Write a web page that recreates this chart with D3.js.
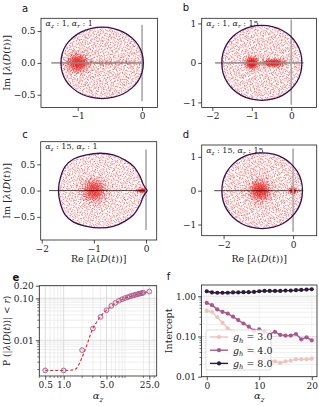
<!DOCTYPE html>
<html>
<head>
<meta charset="utf-8">
<script src="https://cdn.jsdelivr.net/npm/d3@7"></script>
<style>
  body { margin: 0; background: #fff; }
  svg { display: block; }
</style>
</head>
<body>
<svg id="fig" width="319" height="406"></svg>
<script>
// ---- spectra: upper half of each boundary [Re, Im]
const boundaryA = [[-1.26,0],[-1.24,0.148],[-1.18,0.281],[-1.08,0.396],[-0.95,0.484],[-0.8,0.539],[-0.62,0.56],[-0.44,0.539],[-0.29,0.484],[-0.16,0.396],[-0.06,0.281],[0.0,0.148],[0.02,0]]
const boundaryB = [[-1.76,0],[-1.729,0.252],[-1.633,0.477],[-1.475,0.673],[-1.269,0.821],[-1.03,0.914],[-0.745,0.95],[-0.46,0.914],[-0.221,0.821],[-0.015,0.673],[0.143,0.477],[0.239,0.252],[0.27,0]]
const boundaryC = [[-1.68,0],[-1.64,0.25],[-1.55,0.46],[-1.39,0.6],[-1.14,0.68],[-0.88,0.71],[-0.63,0.68],[-0.4,0.58],[-0.24,0.46],[-0.115,0.27],[-0.05,0.11],[0.025,0]]
const boundaryD = [[-2.05,0],[-2.014,0.297],[-1.905,0.562],[-1.724,0.793],[-1.489,0.968],[-1.216,1.077],[-0.89,1.12],[-0.564,1.077],[-0.291,0.968],[-0.056,0.793],[0.125,0.562],[0.234,0.297],[0.27,0]]

// dense spots of eigenvalues: [re, im, spread re, spread im, count]
const clustersA = [[-1.0,0,0.085,0.075,480],[-0.55,0,0.4,0.02,160]]
const clustersB = [[-1.0,0,0.08,0.075,330],[-0.45,0,0.15,0.05,340]]
const clustersC = [[-1.0,0,0.12,0.115,520],[-0.06,0,0.06,0.02,110]]
const clustersD = [[-0.95,0,0.16,0.16,520],[0.0,0,0.05,0.05,120]]

// real axis segment and imaginary axis segment
const realLines = [[-1.41,0.02],[-1.93,0.31],[-1.86,0],[-2.27,0.29]]
const imagLines = [[-0.6,0.6],[-1.06,1.1],[-0.75,0.78],[-1.21,1.25]]
const alphaLabels = [["1","1"],["1","15"],["15","1"],["15","15"]]

// ---- panel e
const alphaE = [0.5,1,2,3,4,5,6,7,8,9,10,11,12,13,14,15,16,17,18,19,20,25]
const probE = [0.0019,0.0019,0.0058,0.019,0.036,0.052,0.066,0.078,0.088,0.095,0.101,0.106,0.111,0.115,0.119,0.122,0.125,0.128,0.131,0.133,0.136,0.145]
const fitX = [0.5,1.0,1.4,1.65,1.85,2.0,2.2,2.45,2.7,3,3.5,4,5,6,8,10,14,20,25]
const fitY = [0.0019,0.0019,0.00195,0.0022,0.003,0.0039,0.0055,0.0085,0.013,0.019,0.028,0.037,0.052,0.065,0.085,0.1,0.118,0.135,0.145]

// ---- panel f
const alphaF = d3.range(0, 21)
const gLabels = ["3.0","4.0","8.0"]
const gColors = ["#efc3bd","#a9588c","#2b1c3d"]
const intercept3 = [0.43,0.41,0.30,0.22,0.16,0.13,0.10,0.075,0.055,0.04,0.027,0.028,0.025,0.024,0.022,0.024,0.025,0.027,0.027,0.027,0.028]
const intercept4 = [0.68,0.60,0.47,0.41,0.37,0.31,0.255,0.21,0.175,0.14,0.15,0.13,0.115,0.13,0.11,0.105,0.105,0.115,0.085,0.095,0.08]
const intercept8 = [1.33,1.24,1.22,1.22,1.22,1.24,1.24,1.26,1.26,1.28,1.33,1.35,1.35,1.35,1.35,1.38,1.38,1.41,1.43,1.46,1.49]

const svg = d3.select("#fig")
const SERIF = "DejaVu Serif"
const SANS = "DejaVu Sans"
const INK = "#222"

// low discrepancy sequence used to spread the dots of the clouds
function halton(i, b) {
  let f = 1, r = 0
  while (i > 0) { f /= b; r += f * (i % b); i = Math.floor(i / b) }
  return r
}

// text with italic greek + subscripts: parts = [[str, kind]]
function richText(sel, parts, size) {
  parts.forEach(([s, kind]) => {
    const t = sel.append("tspan").text(s)
    if (kind == "i") t.attr("font-style", "italic")
    if (kind == "sub") t.attr("font-style", "italic").attr("font-size", size * 0.7).attr("dy", size * 0.25)
    if (kind == "up") t.attr("dy", -size * 0.25)
  })
  return sel
}

function styleAxis(ax) {
  ax.select(".domain").remove()
  ax.selectAll(".tick line").attr("stroke", INK).attr("stroke-width", 0.8)
  ax.selectAll(".tick text").attr("font-family", SERIF).attr("font-size", 9).attr("fill", INK)
}

function frame(g, x0, x1, y0, y1) {
  g.append("rect").attr("x", x0).attr("y", y0).attr("width", x1 - x0).attr("height", y1 - y0)
    .attr("fill", "none").attr("stroke", INK).attr("stroke-width", 0.8)
}

const reLabel = [["Re [", ""], ["λ", "i"], ["(", ""], ["D", "i"], ["(", ""], ["t", "i"], [")", ""], [")]", ""]]
const imLabel = [["Im [", ""], ["λ", "i"], ["(", ""], ["D", "i"], ["(", ""], ["t", "i"], [")", ""], [")]", ""]]

// ---------- spectrum panels ----------
const specLayout = [
  { x0: 41, x1: 157.5, y0: 18.3, y1: 107.5, xDom: [-1.57, 0.24], yDom: [-0.7, 0.7], xTicks: [-1, 0], yTicks: [-0.5, 0, 0.5], yFmt: ".1f", lineColor: "#8c8c8c", lineW: 1.6, cusp: false, letter: "a", lx: 25, ly: 12, ylab: true, xlab: false },
  { x0: 201.7, x1: 316.5, y0: 18.3, y1: 107.5, xDom: [-2.27, 0.64], yDom: [-1.13, 1.13], xTicks: [-2, -1, 0], yTicks: [-1, 0, 1], yFmt: "d", lineColor: "#8c8c8c", lineW: 1.6, cusp: false, letter: "b", lx: 186, ly: 11, ylab: false, xlab: false },
  { x0: 40.7, x1: 156.7, y0: 141.7, y1: 240, xDom: [-2.02, 0.205], yDom: [-0.94, 0.93], xTicks: [-2, -1, 0], yTicks: [-0.5, 0, 0.5], yFmt: ".1f", lineColor: "#111", lineW: 0.9, cusp: true, letter: "c", lx: 25, ly: 138, ylab: true, xlab: true },
  { x0: 201.7, x1: 316.7, y0: 145, y1: 235.7, xDom: [-2.63, 0.68], yDom: [-1.33, 1.35], xTicks: [-2, 0], yTicks: [-1, 0, 1], yFmt: "d", lineColor: "#111", lineW: 0.9, cusp: false, letter: "d", lx: 186, ly: 138, ylab: false, xlab: true }
]
const boundaries = [boundaryA, boundaryB, boundaryC, boundaryD]
const clusters = [clustersA, clustersB, clustersC, clustersD]

specLayout.forEach((p, k) => {
  const x = d3.scaleLinear().domain(p.xDom).range([p.x0, p.x1])
  const y = d3.scaleLinear().domain(p.yDom).range([p.y1, p.y0])
  const g = svg.append("g")
  const upper = boundaries[k]

  let loop
  if (p.cusp) loop = upper.slice().reverse().concat(upper.slice(1).map(d => [d[0], -d[1]]))
  else loop = upper.concat(upper.slice(1, -1).reverse().map(d => [d[0], -d[1]]))
  const poly = loop.map(d => [x(d[0]), y(d[1])])

  // cloud of eigenvalues
  const pts = []
  const ex = d3.extent(upper, d => d[0]), ym = d3.max(upper, d => d[1])
  const seed = 37 + k * 5000
  for (let i = 1; i <= 1600; i++) {
    const re = ex[0] + (ex[1] - ex[0]) * halton(i + seed, 2)
    const im = -ym + 2 * ym * halton(i + seed, 3)
    if (d3.polygonContains(poly, [x(re), y(im)])) pts.push([re, im])
  }
  clusters[k].forEach(([cx, cy, sx, sy, n], j) => {
    for (let i = 1; i <= n; i++) {
      const u = halton(i + seed + j * 997, 5), v = halton(i + seed + j * 997, 7)
      const r = Math.sqrt(-2 * Math.log(u))
      const re = cx + sx * r * Math.cos(2 * Math.PI * v)
      const im = cy + sy * r * Math.sin(2 * Math.PI * v)
      if (d3.polygonContains(poly, [x(re), y(im)])) pts.push([re, im])
    }
  })
  g.append("g").selectAll("circle").data(pts).join("circle")
    .attr("cx", d => x(d[0])).attr("cy", d => y(d[1])).attr("r", 0.6)
    .attr("fill", "#e81f1f").attr("fill-opacity", 0.6)

  // axes lines through the spectrum
  g.append("line").attr("x1", x(realLines[k][0])).attr("x2", x(realLines[k][1]))
    .attr("y1", y(0)).attr("y2", y(0))
    .attr("stroke", p.lineColor).attr("stroke-width", p.lineW).attr("stroke-opacity", 0.85)
  g.append("line").attr("x1", x(0)).attr("x2", x(0))
    .attr("y1", y(imagLines[k][0])).attr("y2", y(imagLines[k][1]))
    .attr("stroke", "#a8a8a8").attr("stroke-width", 1.6)

  // boundary of the spectrum
  const line = d3.line().x(d => x(d[0])).y(d => y(d[1]))
    .curve(p.cusp ? d3.curveCatmullRom : d3.curveCatmullRomClosed)
  g.append("path").attr("d", line(loop)).attr("fill", "none")
    .attr("stroke", "#33104f").attr("stroke-width", 1.3)

  const ax = g.append("g").attr("transform", `translate(0,${p.y1})`)
    .call(d3.axisBottom(x).tickValues(p.xTicks).tickFormat(d3.format("d")).tickSize(3.5).tickPadding(2))
  styleAxis(ax)
  const ay = g.append("g").attr("transform", `translate(${p.x0},0)`)
    .call(d3.axisLeft(y).tickValues(p.yTicks).tickFormat(d3.format(p.yFmt)).tickSize(3.5).tickPadding(2))
  styleAxis(ay)
  frame(g, p.x0, p.x1, p.y0, p.y1)

  const lab = g.append("text").attr("x", p.x0 + 4.5).attr("y", p.y0 + 7.5)
    .attr("font-family", SERIF).attr("font-size", 8).attr("fill", INK)
  richText(lab, [["α", "i"], ["z", "sub"], [" : " + alphaLabels[k][0] + ",  ", "up"], ["α", "i"], ["r", "sub"], [" : " + alphaLabels[k][1], "up"]], 8)

  g.append("text").attr("x", p.lx).attr("y", p.ly).attr("text-anchor", "middle")
    .attr("font-family", SANS).attr("font-size", 10).attr("fill", "#111").text(p.letter)

  if (p.ylab) {
    const t = g.append("text").attr("transform", `translate(9.5,${(p.y0 + p.y1) / 2}) rotate(-90)`)
      .attr("text-anchor", "middle").attr("font-family", SERIF).attr("font-size", 9.5).attr("fill", INK)
    richText(t, imLabel, 9.5)
  }
  if (p.xlab) {
    const t = g.append("text").attr("x", (p.x0 + p.x1) / 2).attr("y", 261.5)
      .attr("text-anchor", "middle").attr("font-family", SERIF).attr("font-size", 9.5).attr("fill", INK)
    richText(t, reLabel, 9.5)
  }
})

// ---------- panel e ----------
{
  const x0 = 39.3, x1 = 156.7, y0 = 285.7, y1 = 376
  const x = d3.scaleLog().domain([0.40, 33]).range([x0, x1])
  const y = d3.scaleLog().domain([0.0014, 0.2]).range([y1, y0])
  const g = svg.append("g")
  const xMinor = [0.4,0.6,0.7,0.8,0.9,2,3,4,6,7,8,9,10,20,30]
  const yMinor = [0.002,0.003,0.004,0.005,0.006,0.007,0.008,0.009,0.02,0.03,0.04,0.05,0.06,0.07,0.08,0.09]
  const xMajor = [0.5, 1, 5, 25], yMajor = [0.01, 0.1, 0.2]
  g.append("g").selectAll("line").data(xMinor).join("line")
    .attr("x1", d => x(d)).attr("x2", d => x(d)).attr("y1", y0).attr("y2", y1)
    .attr("stroke", "#e6e6e6").attr("stroke-width", 0.7)
  g.append("g").selectAll("line").data(yMinor).join("line")
    .attr("y1", d => y(d)).attr("y2", d => y(d)).attr("x1", x0).attr("x2", x1)
    .attr("stroke", "#e6e6e6").attr("stroke-width", 0.7)
  g.append("g").selectAll("line").data(xMajor).join("line")
    .attr("x1", d => x(d)).attr("x2", d => x(d)).attr("y1", y0).attr("y2", y1)
    .attr("stroke", "#d4d4d4").attr("stroke-width", 0.8)
  g.append("g").selectAll("line").data(yMajor).join("line")
    .attr("y1", d => y(d)).attr("y2", d => y(d)).attr("x1", x0).attr("x2", x1)
    .attr("stroke", "#d4d4d4").attr("stroke-width", 0.8)

  const fit = d3.line().x((d, i) => x(d)).y((d, i) => y(fitY[i])).curve(d3.curveMonotoneX)
  g.append("path").attr("d", fit(fitX)).attr("fill", "none")
    .attr("stroke", "#ee2020").attr("stroke-width", 1.1).attr("stroke-dasharray", "3,2")
  g.append("g").selectAll("circle").data(alphaE).join("circle")
    .attr("cx", d => x(d)).attr("cy", (d, i) => y(probE[i])).attr("r", 2.4)
    .attr("fill", "#a9588c").attr("fill-opacity", 0.12)
    .attr("stroke", "#a9588c").attr("stroke-width", 0.9)

  const ax = g.append("g").attr("transform", `translate(0,${y1})`)
    .call(d3.axisBottom(x).tickValues(xMajor).tickFormat(d3.format(".1f")).tickSize(3.5).tickPadding(2))
  styleAxis(ax)
  g.append("g").selectAll("line").data(xMinor).join("line")
    .attr("x1", d => x(d)).attr("x2", d => x(d)).attr("y1", y1).attr("y2", y1 + 2)
    .attr("stroke", INK).attr("stroke-width", 0.6)
  const ay = g.append("g").attr("transform", `translate(${x0},0)`)
    .call(d3.axisLeft(y).tickValues(yMajor).tickFormat(d3.format(".2f")).tickSize(3.5).tickPadding(2))
  styleAxis(ay)
  g.append("g").selectAll("line").data(yMinor).join("line")
    .attr("y1", d => y(d)).attr("y2", d => y(d)).attr("x1", x0).attr("x2", x0 - 2)
    .attr("stroke", INK).attr("stroke-width", 0.6)
  frame(g, x0, x1, y0, y1)

  g.append("text").attr("x", 16).attr("y", 280.5).attr("text-anchor", "middle")
    .attr("font-family", SANS).attr("font-size", 10).attr("font-weight", "bold").attr("fill", "#111").text("e")
  const yl = g.append("text").attr("transform", `translate(9.5,${(y0 + y1) / 2}) rotate(-90)`)
    .attr("text-anchor", "middle").attr("font-family", SERIF).attr("font-size", 9).attr("fill", INK)
  richText(yl, [["P (|", ""], ["λ", "i"], ["(", ""], ["D", "i"], ["(", ""], ["t", "i"], [")", ""], [")| < ", ""], ["r", "i"], [")", ""]], 9)
  const xl = g.append("text").attr("x", (x0 + x1) / 2).attr("y", 399)
    .attr("text-anchor", "middle").attr("font-family", SERIF).attr("font-size", 10).attr("fill", INK)
  richText(xl, [["α", "i"], ["z", "sub"]], 10)
}

// ---------- panel f ----------
{
  const x0 = 201.5, x1 = 317, y0 = 285, y1 = 376.7
  const x = d3.scaleLinear().domain([-1, 21]).range([x0, x1])
  const y = d3.scaleLog().domain([0.01, 1.9]).range([y1, y0])
  const g = svg.append("g")
  const yMinor = [0.02,0.03,0.04,0.05,0.06,0.07,0.08,0.09,0.2,0.3,0.4,0.5,0.6,0.7,0.8,0.9]
  const yMajor = [0.01, 0.1, 1]
  g.append("g").selectAll("line").data(yMinor).join("line")
    .attr("y1", d => y(d)).attr("y2", d => y(d)).attr("x1", x0).attr("x2", x1)
    .attr("stroke", "#e8e8e8").attr("stroke-width", 0.7)
  g.append("g").selectAll("line").data(yMajor).join("line")
    .attr("y1", d => y(d)).attr("y2", d => y(d)).attr("x1", x0).attr("x2", x1)
    .attr("stroke", "#d8d8d8").attr("stroke-width", 0.8)
  g.append("g").selectAll("line").data([0, 10, 20]).join("line")
    .attr("x1", d => x(d)).attr("x2", d => x(d)).attr("y1", y0).attr("y2", y1)
    .attr("stroke", "#ececec").attr("stroke-width", 0.7)

  const series = [intercept3, intercept4, intercept8]
  series.forEach((vals, k) => {
    const line = d3.line().x((d, i) => x(alphaF[i])).y(d => y(d))
    g.append("path").attr("d", line(vals)).attr("fill", "none")
      .attr("stroke", gColors[k]).attr("stroke-width", 1.4)
    g.append("g").selectAll("circle").data(vals).join("circle")
      .attr("cx", (d, i) => x(alphaF[i])).attr("cy", d => y(d)).attr("r", 2.1)
      .attr("fill", gColors[k])
  })

  const ax = g.append("g").attr("transform", `translate(0,${y1})`)
    .call(d3.axisBottom(x).tickValues([0, 10, 20]).tickFormat(d3.format("d")).tickSize(3.5).tickPadding(2))
  styleAxis(ax)
  const ay = g.append("g").attr("transform", `translate(${x0},0)`)
    .call(d3.axisLeft(y).tickValues(yMajor).tickFormat(d3.format(".2f")).tickSize(3.5).tickPadding(2))
  styleAxis(ay)
  g.append("g").selectAll("line").data(yMinor).join("line")
    .attr("y1", d => y(d)).attr("y2", d => y(d)).attr("x1", x0).attr("x2", x0 - 2)
    .attr("stroke", INK).attr("stroke-width", 0.6)
  frame(g, x0, x1, y0, y1)

  // legend
  const lg = g.append("g").attr("transform", "translate(206,330)")
  lg.append("rect").attr("width", 65).attr("height", 40).attr("rx", 2)
    .attr("fill", "#fff").attr("fill-opacity", 0.8).attr("stroke", "#d0d0d0").attr("stroke-width", 0.7)
  gLabels.forEach((s, k) => {
    const row = lg.append("g").attr("transform", `translate(0,${7 + k * 13.2})`)
    row.append("line").attr("x1", 4).attr("x2", 22).attr("stroke", gColors[k]).attr("stroke-width", 1.4)
    row.append("circle").attr("cx", 13).attr("r", 2.1).attr("fill", gColors[k])
    const t = row.append("text").attr("x", 27).attr("y", 3.3)
      .attr("font-family", SERIF).attr("font-size", 9.5).attr("fill", INK)
    richText(t, [["g", "i"], ["h", "sub"], [" = " + s, "up"]], 9.5)
  })

  g.append("text").attr("x", 168.5).attr("y", 280).attr("text-anchor", "middle")
    .attr("font-family", SANS).attr("font-size", 10).attr("fill", "#111").text("f")
  g.append("text").attr("transform", `translate(172,${(y0 + y1) / 2}) rotate(-90)`)
    .attr("text-anchor", "middle").attr("font-family", SERIF).attr("font-size", 9.5).attr("fill", INK).text("Intercept")
  const xl = g.append("text").attr("x", (x0 + x1) / 2).attr("y", 399)
    .attr("text-anchor", "middle").attr("font-family", SERIF).attr("font-size", 10).attr("fill", INK)
  richText(xl, [["α", "i"], ["z", "sub"]], 10)
}
</script>
</body>
</html>
